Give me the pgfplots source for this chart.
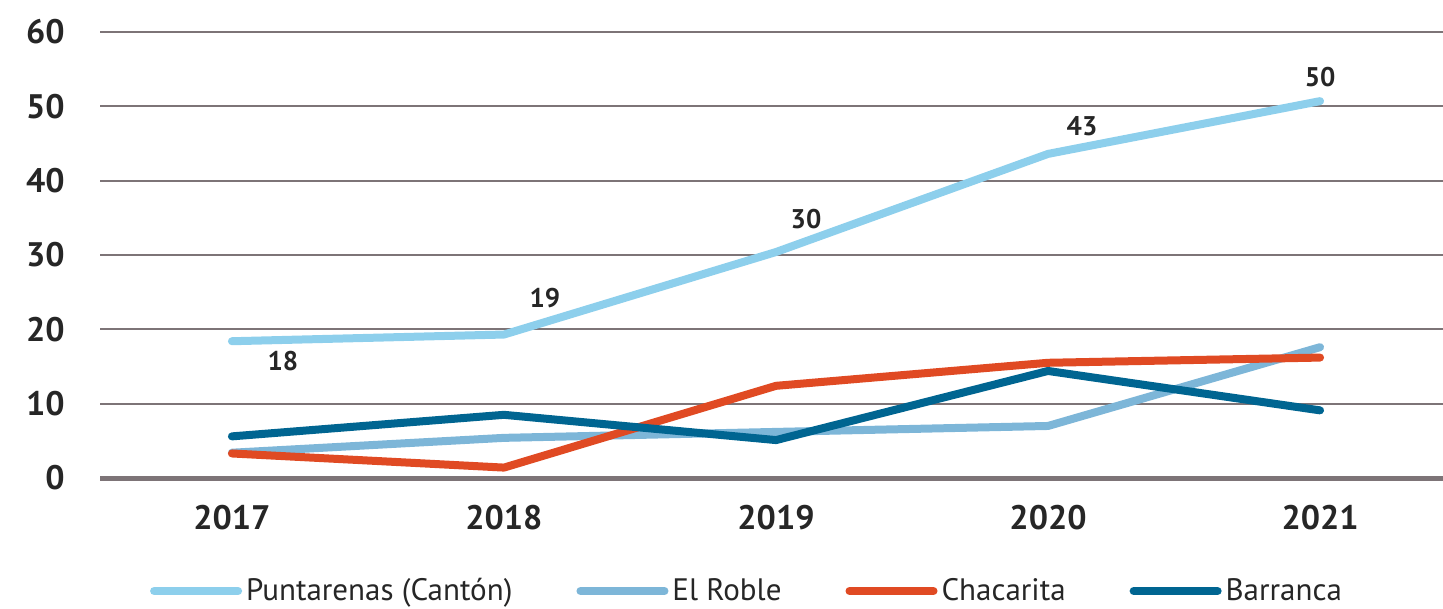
\documentclass[border=0pt]{standalone}
\usepackage{fontspec}
\setmainfont{PT Sans}
\usepackage{pgfplots}
\usepackage{pgfplotstable}
\pgfplotsset{compat=1.18}
\definecolor{cPunt}{RGB}{141,207,236}
\definecolor{cRoble}{RGB}{125,182,216}
\definecolor{cChaca}{RGB}{224,74,35}
\definecolor{cBarra}{RGB}{0,101,145}
\definecolor{cGrid}{RGB}{125,116,119}
\pgfplotstableread{
x y lab dx dy
0 18.4 18 25.5 -10
1 19.3 19 20.5 18
2 30.4 30 15 16.5
3 43.6 43 17 14
4 50.7 50 0 12
}\punt
\pgfplotstableread{
x y
0 3.4
1 5.4
2 6.2
3 7.0
4 17.6
}\roble
\pgfplotstableread{
x y
0 3.3
1 1.4
2 12.4
3 15.5
4 16.2
}\chaca
\pgfplotstableread{
x y
0 5.6
1 8.5
2 5.1
3 14.4
4 9.1
}\barra
\begin{document}
\begin{tikzpicture}
\begin{axis}[
  scale only axis,
  width=671.5pt, height=223pt,
  xmin=-0.485, xmax=4.452,
  ymin=0, ymax=60,
  clip=false,
  xtick={0,1,2,3,4},
  xticklabels={2017,2018,2019,2020,2021},
  ytick={10,20,...,60},
  extra y ticks={0},
  extra y tick style={grid style={line width=2.5pt, color=cGrid}},
  ymajorgrids,
  grid style={line width=1pt, color=cGrid},
  major tick length=0pt,
  axis line style={draw=none},
  /pgf/number format/assume math mode=true,
  tick label style={font=\fontsize{17}{20}\selectfont\bfseries, text=black!85},
  yticklabel style={anchor=east, inner sep=0pt, xshift=-17.5pt},
  xticklabel style={anchor=north, inner sep=0pt, yshift=-13.5pt},
  legend columns=4,
  legend style={at={(rel axis cs:0.4825,-0.2534)}, anchor=center, draw=none,
    font=\fontsize{15.5}{18}\selectfont, text=black!85,
    /tikz/every even column/.append style={column sep=30pt}},
  legend image code/.code={\draw[#1, line width=4pt, line cap=round] (0pt,0pt) -- (42pt,0pt);},
]
\addplot[cPunt, line width=4pt, line cap=round, line join=round,
  point meta=explicit symbolic,
  nodes near coords,
  visualization depends on={\thisrow{dx}\as\dx},
  visualization depends on={\thisrow{dy}\as\dy},
  every node near coord/.append style={anchor=center, xshift=\dx pt, yshift=\dy pt,
     font=\fontsize{13.5}{16}\selectfont\bfseries, text=black!85}]
  table[x=x, y=y, meta=lab] {\punt};
\addlegendentry{Puntarenas (Cantón)}
\addplot[cRoble, line width=4pt, line cap=round, line join=round] table[x=x,y=y] {\roble};
\addlegendentry{El Roble}
\addplot[cChaca, line width=4pt, line cap=round, line join=round] table[x=x,y=y] {\chaca};
\addlegendentry{Chacarita}
\addplot[cBarra, line width=4pt, line cap=round, line join=round] table[x=x,y=y] {\barra};
\addlegendentry{Barranca}
\end{axis}
\pgfresetboundingbox
\path[use as bounding box] (-50pt,-65.5pt) rectangle (671.5pt,239pt);
\end{tikzpicture}
\end{document}
